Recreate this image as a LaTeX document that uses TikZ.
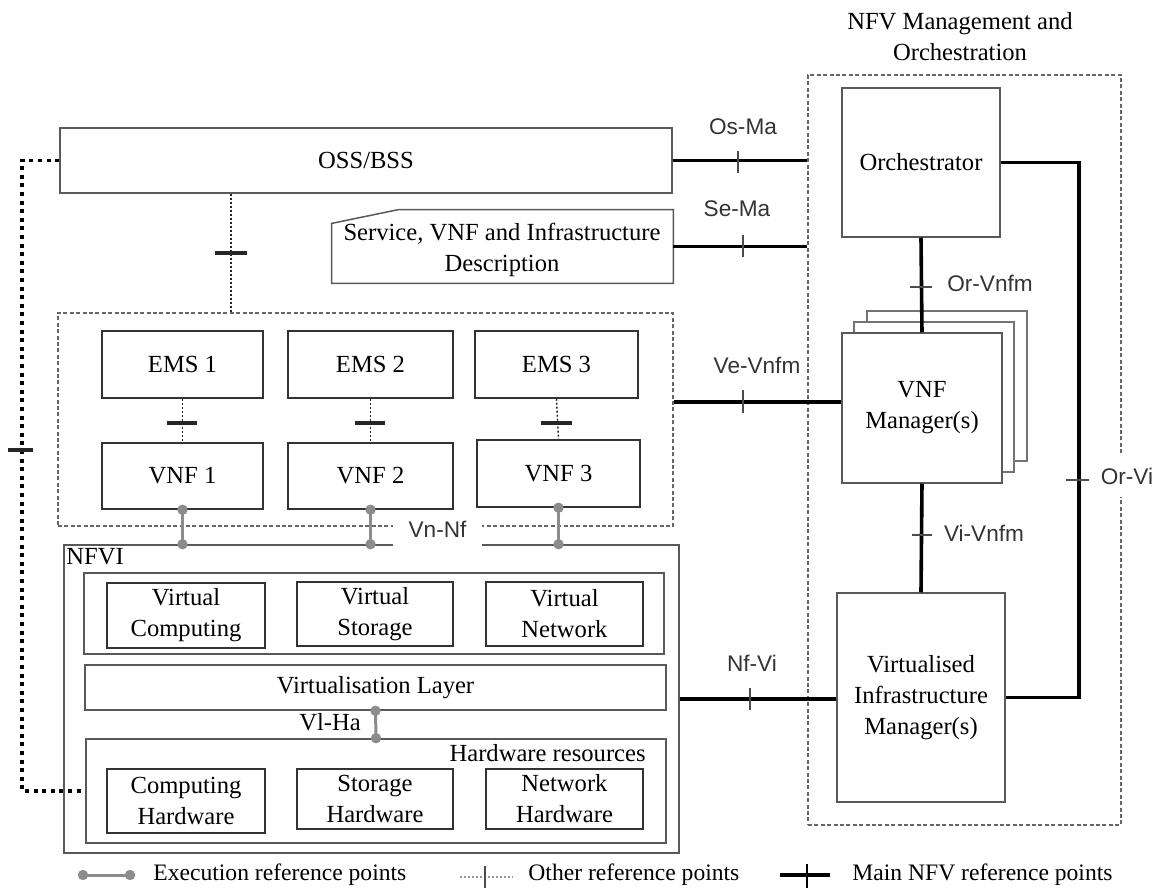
\documentclass[tikz,border=0pt]{standalone}
\usepackage{fontspec}
\setmainfont{Liberation Serif}
\newfontfamily\lsans{Liberation Sans}
\usetikzlibrary{calc}
\definecolor{boxgrey}{gray}{0.35}
\definecolor{execgrey}{gray}{0.55}
\tikzset{
  serif/.style={font=\fontsize{12.3}{15.5}\selectfont},
  rect/.style 2 args={minimum width=#1*0.5pt, minimum height=#2*0.5pt},
  box/.style={draw=boxgrey, line width=0.75pt, fill=white, inner sep=0pt, align=center, serif},
  darkbox/.style={box, draw=black!80},
  backbox/.style={draw=black!55, line width=0.7pt, fill=white, inner sep=0pt},
  dashbox/.style={draw=black!60, line width=0.6pt, dash pattern=on 2pt off 1.2pt, inner sep=0pt},
  lbl/.style={font=\lsans\fontsize{11.3}{13}\selectfont, text=black!80, inner sep=1pt},
  mainline/.style={line width=1.8pt, black},
  maintick/.style={line width=1pt, black!70},
  thindot/.style={line width=0.7pt, black!85, dash pattern=on 1pt off 1pt},
  bigdot/.style={line width=1.7pt, black, dash pattern=on 2pt off 2.3pt},
  othertick/.style={line width=1.8pt, black!85},
  exec/.style={line width=1.5pt, execgrey},
  legend/.style={font=\fontsize{11.8}{14}\selectfont, anchor=west, inner sep=0pt},
}
\begin{document}
\begin{tikzpicture}[x=0.5pt,y=-0.5pt]
\useasboundingbox (0,0) rectangle (1164,888);

% ---------- title and MANO frame ----------
\node[serif, align=center] (title) at (960,37) {NFV Management and\\Orchestration};
\node[dashbox, rect={313}{750}] (mano) at (964.5,450) {};

% ---------- OSS/BSS and description ----------
\node[box, rect={612}{65}] (oss) at (366,160.5) {OSS/BSS};
\node[inner sep=0pt, rect={341}{73}, align=center, serif] (sdesc) at (502.5,246.5) {};
\draw[boxgrey, line width=0.75pt, fill=white]
  ($(sdesc.south west)+(0,-60)$) -- ($(sdesc.north west)+(67,0)$) -- (sdesc.north east)
  -- (sdesc.south east) -- (sdesc.south west) -- cycle;
\node[serif, align=center] (sdesctext) at (502,250) {Service, VNF and Infrastructure\\Description};

% ---------- VNF area ----------
\node[dashbox, rect={615}{213}] (vnfbox) at (365.5,419.5) {};
\node[darkbox, rect={161}{67}] (ems1) at (182.5,364.5) {EMS 1};
\node[darkbox, rect={165}{67}] (ems2) at (370.5,364.5) {EMS 2};
\node[darkbox, rect={163}{67}] (ems3) at (556.5,364.5) {EMS 3};
\node[darkbox, rect={161}{66}] (vnf1) at (182.5,476) {VNF 1};
\node[darkbox, rect={165}{66}] (vnf2) at (370.5,476) {VNF 2};
\node[darkbox, rect={163}{67}] (vnf3) at (558.5,473.5) {VNF 3};

% ---------- NFVI ----------
\node[box, rect={615}{308}] (nfvi) at (371.5,699) {};
\node[serif, anchor=west, inner sep=0pt] (nfvilbl) at (66,557) {NFVI};
\node[box, rect={580}{81}] (vrow) at (374,613.5) {};
\node[darkbox, rect={158}{65}] (vc) at (186,615.5) {Virtual\\Computing};
\node[darkbox, rect={156}{64}] (vs) at (375,614) {Virtual\\Storage};
\node[darkbox, rect={157}{64}] (vn) at (564.5,614) {Virtual\\Network};
\node[box, rect={581}{45}] (vl) at (375.5,687.5) {Virtualisation Layer};
\node[box, rect={580}{104}] (hw) at (376,791) {};
\node[serif, anchor=east, inner sep=0pt] (hwlbl) at (646,753) {Hardware resources};
\node[darkbox, rect={158}{64}] (ch) at (186,801) {Computing\\Hardware};
\node[darkbox, rect={156}{60}] (sh) at (375,799) {Storage\\Hardware};
\node[darkbox, rect={157}{60}] (nh) at (564.5,799) {Network\\Hardware};

% ---------- MANO blocks ----------
\node[box, rect={158}{149}] (orch) at (921,162.5) {Orchestrator};
\node[backbox, rect={160}{150}] (vnfmb2) at (947,386) {};
\node[backbox, rect={160}{150}] (vnfmb1) at (934,397) {};
\node[box, rect={160}{150}] (vnfm) at (922,408) {VNF\\Manager(s)};
\node[box, rect={168}{209}] (vim) at (921,697.5) {Virtualised\\Infrastructure\\Manager(s)};

% ---------- main NFV reference points ----------
\coordinate (ve) at (700,402);
\coordinate (orvi) at (1079,0);
\draw[mainline] (oss.east) -- (oss.east -| mano.west);
\draw[mainline] (sdesc.east) -- (sdesc.east -| mano.west);
\draw[mainline] (vnfbox.east |- ve) -- (vnfm.west |- ve);
\draw[mainline] (nfvi.east) -- (nfvi.east -| vim.west);
\draw[mainline] (orch.south) -- (vnfm.north);
\draw[mainline] (vnfm.south) -- (vim.north);
\draw[mainline] (orch.east) -- (orch.east -| orvi) -- (vim.east -| orvi) -- (vim.east);

\draw[maintick] (738,151) -- (738,173);
\draw[maintick] (743,235) -- (743,257);
\draw[maintick] (743,390) -- (743,413);
\draw[maintick] (750,688) -- (750,710);
\draw[maintick] (910,287) -- (932,287);
\draw[maintick] (912,535) -- (932,535);
\draw[maintick] (1066,480) -- (1089,480);

\node[lbl] (osma) at (743,127) {Os-Ma};
\node[lbl] (sema) at (737,209) {Se-Ma};
\node[lbl] (vevnfm) at (757,365) {Ve-Vnfm};
\node[lbl] (nfvi2) at (752,663) {Nf-Vi};
\node[lbl] (orvnfm) at (990,283) {Or-Vnfm};
\node[lbl] (vivnfm) at (984,533) {Vi-Vnfm};
\node[lbl, fill=white, minimum height=21pt] (orvilbl) at (1127,476) {Or-Vi};

% ---------- other reference points ----------
\coordinate (c1) at (231,0);
\coordinate (lft) at (22,0);
\draw[thindot] (oss.south -| c1) -- (vnfbox.north -| c1);
\draw[othertick] (215,253) -- (247,253);
\draw[thindot] (ems1.south) -- (vnf1.north);
\draw[thindot] (ems2.south) -- (vnf2.north);
\draw[thindot] (ems3.south) -- (vnf3.north);
\draw[othertick] (167,423) -- (197,423);
\draw[othertick] (355,423) -- (385,423);
\draw[othertick] (541,423) -- (572,423);
\draw[bigdot] (oss.west) -- (oss.west -| lft) -- (hw.west -| lft) -- (hw.west);
\draw[othertick] (8,450) -- (33,450);

% ---------- execution reference points ----------
\foreach \v in {vnf1,vnf2,vnf3}{
  \draw[exec] (\v.south) -- (\v.south |- nfvi.north);
  \fill[execgrey] (\v.south) circle (2.6pt);
  \fill[execgrey] (\v.south |- nfvi.north) circle (2.6pt);
}
\draw[exec] (vl.south) -- (hw.north);
\fill[execgrey] (vl.south) circle (2.6pt);
\fill[execgrey] (hw.north) circle (2.6pt);
\node[serif, inner sep=0pt] (vlha) at (330,722) {Vl-Ha};
\node[lbl, fill=white, minimum width=44.5pt, minimum height=19pt, inner sep=0pt] (vnnf) at (437.5,529) {Vn-Nf};

% ---------- legend ----------
\coordinate (lg1a) at (83,875);
\coordinate (lg1b) at (130,875);
\draw[exec] (lg1a) -- (lg1b);
\fill[execgrey] (lg1a) circle (2.6pt);
\fill[execgrey] (lg1b) circle (2.6pt);
\node[legend] (lgexec) at (153,875) {Execution reference points};
\coordinate (lg2a) at (460,877);
\coordinate (lg2b) at (513,877);
\draw[line width=0.6pt, black!40, dash pattern=on 1pt off 1pt] (lg2a) -- (lg2b);
\draw[line width=0.6pt, black!70] (485,866) -- (485,888);
\node[legend] (lgother) at (528,875) {Other reference points};
\coordinate (lg3a) at (780,875);
\coordinate (lg3b) at (830,875);
\draw[mainline] (lg3a) -- (lg3b);
\draw[line width=0.9pt] (807,864) -- (807,888);
\node[legend] (lgmain) at (852,875) {Main NFV reference points};
\end{tikzpicture}
\end{document}
